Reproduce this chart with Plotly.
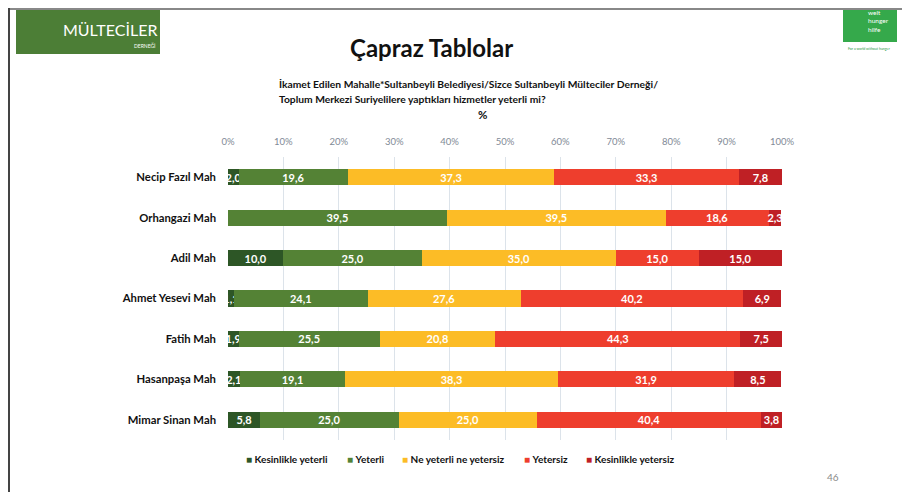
import plotly.graph_objects as go

categories = ["Necip Fazıl Mah", "Orhangazi Mah", "Adil Mah", "Ahmet Yesevi Mah",
              "Fatih Mah", "Hasanpaşa Mah", "Mimar Sinan Mah"]
series_names = ["Kesinlikle yeterli", "Yeterli", "Ne yeterli ne yetersiz", "Yetersiz", "Kesinlikle yetersiz"]
kesinlikle_yeterli = [2.0, 0.0, 10.0, 1.1, 1.9, 2.1, 5.8]
yeterli = [19.6, 39.5, 25.0, 24.1, 25.5, 19.1, 25.0]
ne_yeterli_ne_yetersiz = [37.3, 39.5, 35.0, 27.6, 20.8, 38.3, 25.0]
yetersiz = [33.3, 18.6, 15.0, 40.2, 44.3, 31.9, 40.4]
kesinlikle_yetersiz = [7.8, 2.3, 15.0, 6.9, 7.5, 8.5, 3.8]
tick_vals = [0, 10, 20, 30, 40, 50, 60, 70, 80, 90, 100]
tick_text = [f"{v}%" for v in tick_vals]

series_values = [kesinlikle_yeterli, yeterli, ne_yeterli_ne_yetersiz, yetersiz, kesinlikle_yetersiz]
colors = ["#2d5626", "#548235", "#fcbc26", "#ee3e2d", "#bf2025"]

# the page body has an 8px margin; work in window pixels and offset
OFF = 8
W, H = 910 - 2 * OFF, 500 - 2 * OFF
L, R, T, B = 228, 782, 157, 440  # plot area in window pixels

def px(x):
    return (x - L) / (R - L)

def py(y):
    return (B - y) / (B - T)

FONT = "Lato"

fig = go.Figure()
for name, vals, col in zip(series_names, series_values, colors):
    fig.add_trace(go.Bar(
        y=categories, x=vals, name=name, orientation="h",
        marker=dict(color=col, line=dict(width=0)),
        text=[f"{v:.1f}".replace(".", ",") for v in vals],
        textposition="inside", insidetextanchor="middle", textangle=0,
        textfont=dict(color="white", size=11, family=FONT, weight="bold"),
        cliponaxis=True, hoverinfo="skip", showlegend=False,
    ))

fig.update_layout(
    width=W, height=H, barmode="stack", bargap=0.6,
    margin=dict(l=L - OFF, r=(W + OFF) - R, t=T - OFF, b=(H + OFF) - B, pad=0),
    paper_bgcolor="white", plot_bgcolor="white",
    font=dict(family=FONT, color="#222"),
    uniformtext=dict(minsize=11, mode="show"),
    showlegend=False,
    xaxis=dict(side="top", range=[0, 100], tickvals=tick_vals, ticktext=tick_text,
               showgrid=True, gridcolor="#dce3ea", gridwidth=1, zeroline=False,
               showline=False, ticks="", ticklabelstandoff=9,
               tickfont=dict(size=9.5, color="#7f8a96", family=FONT)),
    yaxis=dict(autorange="reversed", showgrid=False, showline=False, ticks="",
               ticklabelstandoff=11,
               tickfont=dict(size=11.3, color="#111", family=FONT, weight="bold")),
)

def ann(x, y, text, size, color="#111", anchor="left", **kw):
    d = dict(x=px(x), y=py(y), xref="paper", yref="paper", text=text, showarrow=False,
             font=dict(size=size, color=color, family=FONT), xanchor=anchor, yanchor="middle")
    d.update(kw)
    return d

annotations = [
    ann(431, 48, "<b>Çapraz Tablolar</b>", 24, anchor="center"),
    ann(277, 84, "<b>İkamet Edilen Mahalle*Sultanbeyli Belediyesi/Sizce Sultanbeyli Mülteciler Derneği/</b>", 10.3),
    ann(277, 99, "<b>Toplum Merkezi Suriyelilere yaptıkları hizmetler yeterli mi?</b>", 10.3),
    ann(482, 114, "<b>%</b>", 11.5, anchor="center"),
    ann(833, 477, "46", 10, color="#8a8a8a", anchor="center"),
    ann(110, 30, "MÜLTECİLER", 16, color="white", anchor="center"),
    ann(145, 45, "DERNEĞİ", 5, color="white", anchor="center"),
    ann(866, 21, "welt<br>hunger<br>hilfe", 6.5, color="white", align="left"),
    ann(869, 49, "For a world without hunger", 3.5, color="#2a9a46", anchor="center"),
]
legend_x = [244, 345, 400, 522, 584]
for name, col, lx in zip(series_names, colors, legend_x):
    annotations.append(ann(lx, 459, f'<span style="color:{col}">■</span> <b>{name}</b>', 10))
fig.update_layout(annotations=annotations)

def rect(x0, x1, y0, y1, color):
    return dict(type="rect", xref="paper", yref="paper", x0=px(x0), x1=px(x1), y0=py(y0), y1=py(y1),
                fillcolor=color, line=dict(width=0))

shapes = [
    dict(type="line", xref="paper", yref="paper", x0=px(8), x1=px(910), y0=py(9), y1=py(9),
         line=dict(color="#888", width=2)),
    dict(type="line", xref="paper", yref="paper", x0=px(9), x1=px(9), y0=py(8), y1=py(500),
         line=dict(color="#444", width=2)),
    rect(16, 160, 10, 54, "#4c7e36"),
    rect(843, 897, 10, 42, "#35a94b"),
]
fig.update_layout(shapes=shapes)

fig.write_html("out.html")
